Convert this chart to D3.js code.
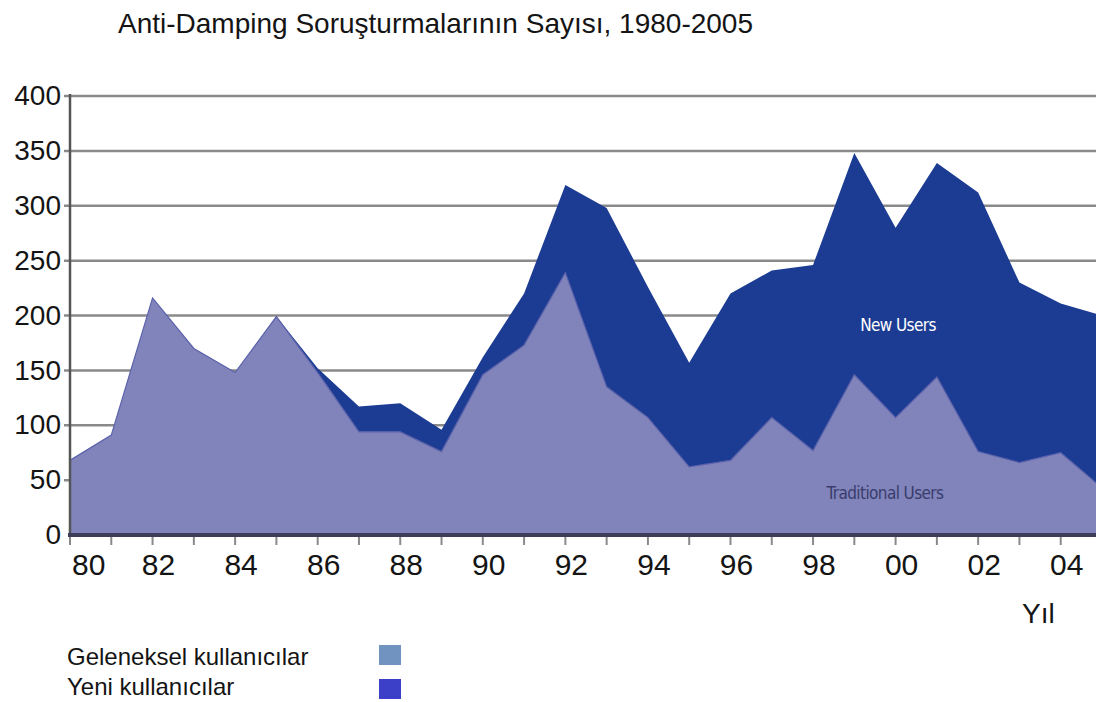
<!DOCTYPE html>
<html>
<head>
<meta charset="utf-8">
<script src="https://cdn.jsdelivr.net/npm/d3@7"></script>
<style>
  body { margin: 0; background: #fff; }
  text { font-family: "Liberation Sans", Arial, sans-serif; fill: #141414; }
</style>
</head>
<body>
<div id="chart"></div>
<script>
// Anti-dumping investigations per year, stacked: traditional + new users
const years = [1980, 1981, 1982, 1983, 1984, 1985, 1986, 1987, 1988, 1989, 1990, 1991, 1992,
               1993, 1994, 1995, 1996, 1997, 1998, 1999, 2000, 2001, 2002, 2003, 2004, 2005];
const traditional = [68, 91, 216, 170, 148, 199, 148, 94, 94, 76, 146, 173, 239,
                     135, 107, 62, 68, 107, 77, 146, 107, 144, 76, 66, 75, 43];
const newUsers = [0, 0, 0, 0, 0, 0, 4, 23, 26, 20, 16, 47, 80,
                  163, 119, 95, 152, 134, 169, 202, 173, 195, 236, 164, 136, 157];

const yTicks = [0, 50, 100, 150, 200, 250, 300, 350, 400];
const xLabelYears = [1980, 1982, 1984, 1986, 1988, 1990, 1992, 1994, 1996, 1998, 2000, 2002, 2004];
const xLabels = ["80", "82", "84", "86", "88", "90", "92", "94", "96", "98", "00", "02", "04"];
const areaLabels = ["Traditional Users", "New Users"];
const legendLabels = ["Geleneksel kullanıcılar", "Yeni kullanıcılar"];

const title = "Anti-Damping Soruşturmalarının Sayısı, 1980-2005";

const svg = d3.select("#chart").append("svg")
    .attr("width", 1096)
    .attr("height", 702)
    .style("display", "block");

const x = d3.scaleLinear()
    .domain([1980, 2005])
    .range([70, 1102]);

const y = d3.scaleLinear()
    .domain([0, 400])
    .range([535, 96]);

// title
svg.append("text")
    .attr("x", 118)
    .attr("y", 33)
    .attr("font-size", 28)
    .text(title);

// gridlines
svg.append("g")
    .selectAll("line")
    .data(yTicks.filter(d => d > 0))
    .join("line")
    .attr("x1", 64)
    .attr("x2", 1096)
    .attr("y1", d => y(d))
    .attr("y2", d => y(d))
    .attr("stroke", "#8a8a8a")
    .attr("stroke-width", 2.5);

// stacked areas
const table = years.map((yr, i) => ({ year: yr, traditional: traditional[i], newUsers: newUsers[i] }));
const stacked = d3.stack().keys(["traditional", "newUsers"])(table);

const area = d3.area()
    .x(d => x(d.data.year))
    .y0(d => y(d[0]))
    .y1(d => y(d[1]));

const fills = ["#8084bb", "#1c3c93"];

svg.append("g")
    .selectAll("path")
    .data(stacked)
    .join("path")
    .attr("d", area)
    .attr("fill", (d, i) => fills[i]);

// thin darker edge on top of the traditional area
svg.append("path")
    .datum(stacked[0])
    .attr("fill", "none")
    .attr("stroke", "#5a61aa")
    .attr("stroke-width", 1.2)
    .attr("d", d3.line().x(d => x(d.data.year)).y(d => y(d[1])));

// axes lines
svg.append("line")
    .attr("x1", 70).attr("x2", 70)
    .attr("y1", y(400) - 2).attr("y2", y(0))
    .attr("stroke", "#555")
    .attr("stroke-width", 2.5);

svg.append("line")
    .attr("x1", 68).attr("x2", 1096)
    .attr("y1", y(0)).attr("y2", y(0))
    .attr("stroke", "#3d3d58")
    .attr("stroke-width", 4);

// yearly tick marks
svg.append("g")
    .selectAll("line")
    .data(years)
    .join("line")
    .attr("x1", d => x(d))
    .attr("x2", d => x(d))
    .attr("y1", y(0) + 2)
    .attr("y2", y(0) + 10)
    .attr("stroke", "#8a8a8a")
    .attr("stroke-width", 2);

// y tick labels
svg.append("g")
    .selectAll("text")
    .data(yTicks)
    .join("text")
    .attr("x", 61)
    .attr("y", d => y(d))
    .attr("dy", "0.33em")
    .attr("text-anchor", "end")
    .attr("font-size", 28)
    .text(d => d);

// x tick labels
svg.append("g")
    .selectAll("text")
    .data(xLabelYears)
    .join("text")
    .attr("x", d => x(d))
    .attr("dx", (d, i) => i === 0 ? 2 : 6)
    .attr("y", 575)
    .attr("text-anchor", (d, i) => i === 0 ? "start" : "middle")
    .attr("font-size", 30)
    .text((d, i) => xLabels[i]);

// axis title
svg.append("text")
    .attr("x", 1022)
    .attr("y", 623)
    .attr("font-size", 28)
    .text("Yıl");

// labels inside the areas
svg.append("text")
    .attr("x", 898)
    .attr("y", 331)
    .attr("text-anchor", "middle")
    .attr("font-size", 17)
    .attr("letter-spacing", -0.6)
    .style("font-family", "'Liberation Sans Narrow', 'DejaVu Sans Condensed', sans-serif")
    .style("fill", "#ffffff")
    .text(areaLabels[1]);

svg.append("text")
    .attr("x", 885)
    .attr("y", 499)
    .attr("text-anchor", "middle")
    .attr("font-size", 17)
    .attr("letter-spacing", -0.6)
    .style("font-family", "'Liberation Sans Narrow', 'DejaVu Sans Condensed', sans-serif")
    .style("fill", "#3a3c6c")
    .text(areaLabels[0]);

// legend
const legendColors = ["#7093c0", "#3c40c8"];
const legend = svg.append("g");

legend.selectAll("text")
    .data(legendLabels)
    .join("text")
    .attr("x", 67)
    .attr("y", (d, i) => 665 + i * 30)
    .attr("font-size", 24)
    .text(d => d);

legend.selectAll("rect")
    .data(legendColors)
    .join("rect")
    .attr("x", 379)
    .attr("y", (d, i) => 645 + i * 34)
    .attr("width", 22)
    .attr("height", 20)
    .attr("fill", d => d);
</script>
</body>
</html>
